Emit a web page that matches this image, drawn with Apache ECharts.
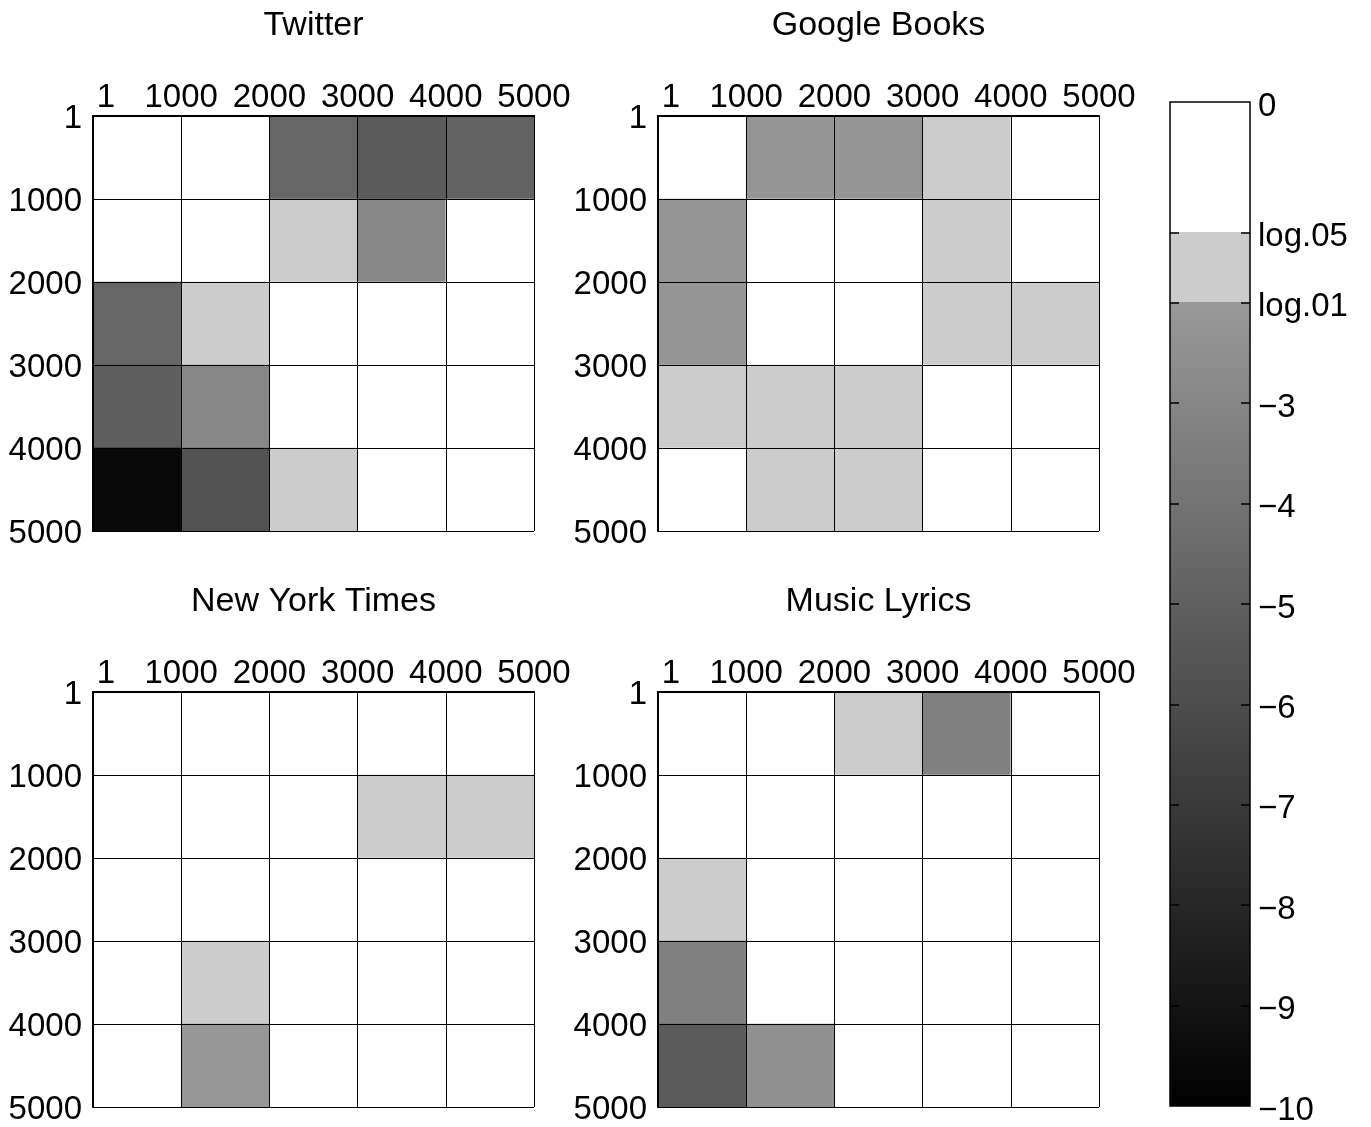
<!DOCTYPE html>
<html><head><meta charset="utf-8">
<script src="https://cdn.jsdelivr.net/npm/echarts@6/dist/echarts.min.js"></script>
<style>html,body{margin:0;padding:0;background:#fff}#c{width:1371px;height:1127px}</style>
</head><body><div id="c"></div>
<script>
// ---- data (log10 p-values; rows = y 1..5000 top->bottom, cols = x 1..5000 left->right) ----
const panelTitles = ['Twitter', 'Google Books', 'New York Times', 'Music Lyrics'];
const axisTicks = [0, 1000, 2000, 3000, 4000, 5000];
const cellCategories = ['0', '1', '2', '3', '4'];
const twitter = [
  [-0.5, -0.5, -4.67, -5.24, -4.88],
  [-0.5, -0.5, -1.6, -2.94, -0.5],
  [-4.67, -1.6, -0.5, -0.5, -0.5],
  [-5.08, -2.94, -0.5, -0.5, -0.5],
  [-9.53, -5.71, -1.6, -0.5, -0.5]
];
const googleBooks = [
  [-0.5, -2.2, -2.2, -1.6, -0.5],
  [-2.2, -0.5, -0.5, -1.6, -0.5],
  [-2.2, -0.5, -0.5, -1.6, -1.6],
  [-1.6, -1.6, -1.6, -0.5, -0.5],
  [-0.5, -1.6, -1.6, -0.5, -0.5]
];
const newYorkTimes = [
  [-0.5, -0.5, -0.5, -0.5, -0.5],
  [-0.5, -0.5, -0.5, -1.6, -1.6],
  [-0.5, -0.5, -0.5, -0.5, -0.5],
  [-0.5, -1.6, -0.5, -0.5, -0.5],
  [-0.5, -2.1, -0.5, -0.5, -0.5]
];
const musicLyrics = [
  [-0.5, -0.5, -1.6, -3.31, -0.5],
  [-0.5, -0.5, -0.5, -0.5, -0.5],
  [-1.6, -0.5, -0.5, -0.5, -0.5],
  [-3.31, -0.5, -0.5, -0.5, -0.5],
  [-5.24, -2.42, -0.5, -0.5, -0.5]
];
const colorbarLabelValues = [0, -1.30103, -2, -3, -4, -5, -6, -7, -8, -9, -10];
const colorbarTickValues = [-1.30103, -2, -3, -4, -5, -6, -7, -8, -9];
const matrices = [twitter, googleBooks, newYorkTimes, musicLyrics];

// ---- layout & style ----
const FONT = 'Liberation Sans, Arial, sans-serif';
const panels = [
  {left: 93, top: 116}, {left: 658, top: 116},
  {left: 93, top: 692}, {left: 658, top: 692}
];
const PW = 441, PH = 415;

function grayAt(v) {
  if (v > -1.30103) return 255;
  if (v > -2) return 204;
  return Math.max(0, Math.round(153 * (v + 10) / 8));
}
const stops = [];
for (let i = 0; i <= 500; i++) {
  const g = grayAt(-10 + i * 10 / 500);
  stops.push('rgb(' + g + ',' + g + ',' + g + ')');
}
const txt = (extraTop) => ({fontFamily: FONT, fontSize: 33, color: '#000', padding: [extraTop, 0, 0, 0]});

const grid = [], xAxis = [], yAxis = [], series = [], title = [];
panels.forEach((p, i) => {
  grid.push({left: p.left, top: p.top, width: PW, height: PH, show: false});
  title.push({
    text: panelTitles[i], left: p.left + PW / 2, top: p.top - 107, textAlign: 'center', padding: 0,
    textStyle: {fontFamily: FONT, fontSize: 34, fontWeight: 'normal', color: '#000'}
  });
  // category axes for heatmap (bottom / right outer border)
  xAxis.push({
    type: 'category', gridIndex: i, position: 'bottom', data: cellCategories, z: 5,
    axisLabel: {show: false}, axisTick: {show: false}, splitLine: {show: false},
    axisLine: {show: true, lineStyle: {color: '#000', width: 2}}
  });
  yAxis.push({
    type: 'category', gridIndex: i, position: 'right', data: cellCategories, inverse: true, z: 5,
    axisLabel: {show: false}, axisTick: {show: false}, splitLine: {show: false},
    axisLine: {show: true, lineStyle: {color: '#000', width: 2}}
  });
  // value axes for labels (top / left)
  xAxis.push({
    type: 'value', gridIndex: i, position: 'top', min: 0, max: 5000, interval: 1000, z: 5,
    axisTick: {show: false},
    axisLine: {show: true, lineStyle: {color: '#000', width: 2}},
    splitLine: {show: true, lineStyle: {color: '#000', width: 1}},
    axisLabel: {
      color: '#000', fontFamily: FONT, fontSize: 33, margin: 2,
      formatter: v => v === 0 ? '{s|1}' : String(v),
      rich: {s: {fontFamily: FONT, fontSize: 33, color: '#000', padding: [0, 0, 0, 26]}}
    }
  });
  yAxis.push({
    type: 'value', gridIndex: i, position: 'left', min: 0, max: 5000, interval: 1000, inverse: true, z: 5,
    axisTick: {show: false},
    axisLine: {show: true, lineStyle: {color: '#000', width: 2}},
    splitLine: {show: true, lineStyle: {color: '#000', width: 1}},
    axisLabel: {
      color: '#000', fontFamily: FONT, fontSize: 33, margin: 11,
      formatter: v => '{a|' + (v === 0 ? '1' : String(v)) + '}',
      rich: {a: txt(5)}
    }
  });
  const data = [];
  matrices[i].forEach((row, r) => row.forEach((val, c) => data.push([c, r, val])));
  series.push({
    type: 'heatmap', xAxisIndex: 2 * i, yAxisIndex: 2 * i, data: data,
    itemStyle: {borderWidth: 0}, emphasis: {disabled: true}, progressive: 0
  });
});

// colorbar grid
const cbIdx = 4;
grid.push({
  left: 1170, top: 102, width: 80, height: 1005, show: true,
  borderColor: '#000', borderWidth: 1.5,
  backgroundColor: {
    type: 'linear', x: 0, y: 0, x2: 0, y2: 1,
    colorStops: [
      {offset: 0, color: '#ffffff'}, {offset: 0.130103, color: '#ffffff'},
      {offset: 0.130103, color: '#cccccc'}, {offset: 0.2, color: '#cccccc'},
      {offset: 0.2, color: '#999999'}, {offset: 1, color: '#000000'}
    ]
  }
});
xAxis.push({type: 'category', gridIndex: cbIdx, data: ['c'], show: false});
const cbFmt = v => {
  let s;
  if (Math.abs(v) < 1e-6) s = '0';
  else if (Math.abs(v + 1.30103) < 1e-3) s = 'log.05';
  else if (Math.abs(v + 2) < 1e-6) s = 'log.01';
  else s = '\u2212' + Math.round(-v);
  return '{a|' + s + '}';
};
yAxis.push({
  type: 'value', gridIndex: cbIdx, position: 'right', min: -10, max: 0, z: 5,
  axisLine: {show: false}, splitLine: {show: false},
  axisTick: {show: true, inside: true, length: 9, customValues: colorbarTickValues, lineStyle: {color: '#000', width: 1.5}},
  axisLabel: {show: true, customValues: colorbarLabelValues, formatter: cbFmt, color: '#000', fontFamily: FONT, fontSize: 33, margin: 8,
    rich: {a: txt(9)}}
});
yAxis.push({
  type: 'value', gridIndex: cbIdx, position: 'left', min: -10, max: 0, z: 5,
  axisLine: {show: false}, splitLine: {show: false}, axisLabel: {show: false},
  axisTick: {show: true, inside: true, length: 9, customValues: colorbarTickValues, lineStyle: {color: '#000', width: 1.5}}
});

const option = {
  backgroundColor: '#fff',
  animation: false,
  title: title,
  grid: grid,
  xAxis: xAxis,
  yAxis: yAxis,
  visualMap: {
    type: 'continuous', show: false, min: -10, max: 0, seriesIndex: [0, 1, 2, 3],
    inRange: {color: stops}
  },
  series: series
};
const chart = echarts.init(document.getElementById('c'), null, {renderer: 'canvas'});
chart.setOption(option);
</script>
</body></html>
